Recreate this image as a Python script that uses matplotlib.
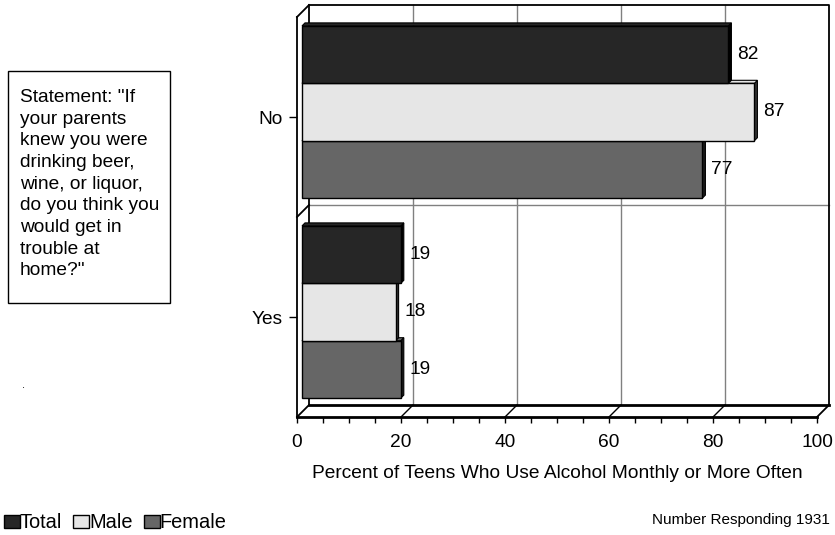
import matplotlib
matplotlib.use("Agg")
import matplotlib.pyplot as plt
from matplotlib.patches import Polygon, Rectangle, Patch

plt.rcParams['font.family'] = ['Liberation Sans', 'DejaVu Sans']

# data
answers = ['No', 'Yes']
groups = ['Total', 'Male', 'Female']
total = [82, 19]
male = [87, 18]
female = [77, 19]
colors = ['#262626', '#e6e6e6', '#666666']
side_colors = ['#000000', '#333333', '#1a1a1a']
statement = 'Statement: "If\nyour parents\nknew you were\ndrinking beer,\nwine, or liquor,\ndo you think you\nwould get in\ntrouble at\nhome?"'

fs = 13.8

fig = plt.figure(figsize=(8.35, 5.35), dpi=100)
ax = fig.add_axes([297 / 835, (535 - 417) / 535, 520 / 835, 400 / 535])
ax.set_xlim(0, 100)
ax.set_ylim(0, 2)
for s in ax.spines.values():
    s.set_visible(False)


def px(dxp, dyp):
    # pixel offset -> data offset
    inv = ax.transData.inverted()
    x0, y0 = inv.transform((0, 0))
    x1, y1 = inv.transform((dxp, dyp))
    return x1 - x0, y1 - y0


dx, dy = px(12, 12)      # depth of the box
bx, by = px(5, 5)        # bars sit a little behind the front plane
ex, ey = px(3, 3)        # bar extrusion

# back wall grid
for v in [20, 40, 60, 80]:
    ax.plot([v + dx, v + dx], [dy, 2 + dy], color='#808080', lw=1, zorder=1, clip_on=False)
    ax.plot([v, v + dx], [0, dy], color='black', lw=1, zorder=1, clip_on=False)
ax.plot([dx, 100 + dx], [1 + dy, 1 + dy], color='#808080', lw=1, zorder=1, clip_on=False)

# frame
k = dict(color='black', lw=1.3, zorder=2, clip_on=False, solid_capstyle='projecting')
ax.plot([dx, dx], [dy, 2 + dy], **k)
ax.plot([dx, 100 + dx, 100 + dx], [2 + dy, 2 + dy, dy], **k)
ax.plot([dx, 100 + dx], [dy, dy], color='black', lw=2, zorder=2, clip_on=False)
ax.plot([0, 100], [0, 0], color='black', lw=2, zorder=2, clip_on=False)
ax.plot([100, 100 + dx], [0, dy], **k)
ax.plot([0, 0], [0, 2], **k)
for yy in [0, 1, 2]:
    ax.plot([0, dx], [yy, yy + dy], **k)

# bars
h = 0.287
centers = [1.5, 0.5]
series = [total, male, female]
for i in range(len(answers)):
    for j in [2, 1, 0]:
        v = series[j][i]
        y0 = centers[i] + h * 1.5 - h * (j + 1) + by
        y1 = y0 + h
        x0 = bx
        x1 = v + bx
        side = Polygon([(x1, y0), (x1 + ex, y0 + ey), (x1 + ex, y1 + ey), (x1, y1)],
                       closed=True, fc=side_colors[j], ec='black', lw=0.8, zorder=3, clip_on=False)
        top = Polygon([(x0, y1), (x0 + ex, y1 + ey), (x1 + ex, y1 + ey), (x1, y1)],
                      closed=True, fc=colors[j], ec='black', lw=0.8, zorder=3, clip_on=False)
        front = Rectangle((x0, y0), v, h, fc=colors[j], ec='black', lw=1, zorder=4, clip_on=False)
        ax.add_patch(side)
        ax.add_patch(top)
        ax.add_patch(front)
        ax.annotate(str(v), (x1, (y0 + y1) / 2), xytext=(6.5, 0), textcoords='offset points',
                    ha='left', va='center', fontsize=fs, zorder=5)

# axes ticks
ax.set_xticks(range(0, 101, 20))
ax.set_xticks(range(0, 101, 5), minor=True)
ax.tick_params(axis='x', which='both', direction='out', length=4, width=1, labelsize=fs, pad=8)
ax.set_yticks(centers)
ax.set_yticklabels(answers)
ax.tick_params(axis='y', direction='out', length=6, width=1, labelsize=fs, pad=4)
ax.set_xlabel('Percent of Teens Who Use Alcohol Monthly or More Often', fontsize=fs, labelpad=10)

# statement box
fig.text(20 / 835, 1 - 89 / 535, statement, ha='left', va='top', fontsize=fs, linespacing=1.36)
fig.patches.append(Rectangle((8 / 835, 1 - 303 / 535), 162 / 835, 232 / 535, transform=fig.transFigure,
                             fc='none', ec='black', lw=1))
fig.text(22 / 835, 1 - 388 / 535, '.', fontsize=8)

# legend
handles = [Patch(fc=c, ec='black', lw=1) for c in colors]
fig.legend(handles, groups, loc='center left', bbox_to_anchor=(-0.005, 1 - 523 / 535), ncol=3,
           frameon=False, fontsize=14.4, handlelength=0.8, handleheight=0.6, handletextpad=0.0,
           columnspacing=0.55, borderaxespad=0)
fig.text(830 / 835, 1 - 520 / 535, 'Number Responding 1931', ha='right', va='center', fontsize=11)

fig.savefig('out.png', dpi=100)
